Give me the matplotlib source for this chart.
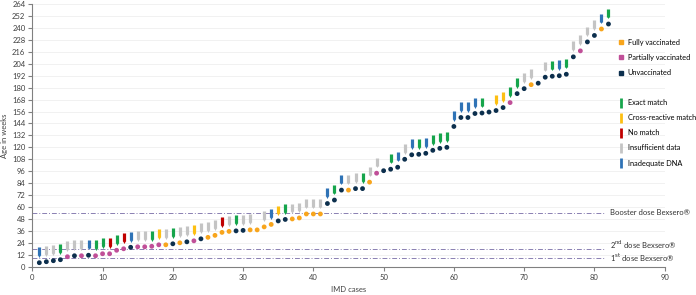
import numpy as np
import matplotlib
matplotlib.use("Agg")
import matplotlib.pyplot as plt
from matplotlib.lines import Line2D

plt.rcParams['font.family'] = ['Lato', 'DejaVu Sans']

# IMD cases ordered by age (weeks)
cases = np.arange(1, 83)
age_weeks = [4, 5, 6, 7, 10, 11, 11, 11.5, 11, 13,
             13, 16.5, 18, 19.5, 20, 20, 20.5, 22, 22, 23,
             24, 25, 26, 28, 29.5, 31.5, 34.5, 35.5, 36, 36.5,
             37, 37, 40, 42.5, 46, 47.5, 48, 49, 53, 53,
             53, 63.5, 67, 77, 77, 78.5, 78.5, 85, 94, 96.5,
             98, 100, 108, 112.5, 113, 114, 117, 119, 120, 141,
             150, 150, 154, 154.5, 155.5, 157, 160, 165, 174, 179,
             183, 184.5, 190.5, 191.5, 192, 193.5, 211, 217, 226, 232.5,
             239, 244]
# F = fully, P = partially, U = unvaccinated
status = ['U', 'U', 'U', 'U', 'P', 'U', 'P', 'U', 'P', 'P',
          'P', 'P', 'P', 'U', 'P', 'P', 'P', 'P', 'F', 'U',
          'F', 'U', 'P', 'U', 'F', 'F', 'F', 'F', 'U', 'U',
          'F', 'F', 'F', 'F', 'U', 'U', 'F', 'F', 'F', 'F',
          'F', 'U', 'U', 'U', 'F', 'U', 'U', 'F', 'P', 'U',
          'U', 'U', 'U', 'U', 'U', 'U', 'U', 'U', 'U', 'U',
          'U', 'U', 'U', 'U', 'U', 'U', 'U', 'P', 'U', 'U',
          'F', 'U', 'U', 'U', 'U', 'U', 'U', 'P', 'U', 'U',
          'F', 'U']
# E = exact, C = cross-reactive, N = no match, I = insufficient data, D = inadequate DNA
match = ['D', 'I', 'I', 'E', 'I', 'I', 'I', 'D', 'E', 'E',
         'N', 'E', 'N', 'D', 'I', 'I', 'E', 'C', 'I', 'E',
         'I', 'I', 'C', 'I', 'I', 'I', 'N', 'I', 'E', 'I',
         'I', '', 'I', 'D', 'C', 'E', 'I', 'I', 'I', 'I',
         'I', 'D', 'E', 'D', 'I', 'I', 'E', 'I', 'I', '',
         'E', 'D', 'I', 'D', 'E', 'D', 'E', 'E', 'E', 'D',
         'D', 'D', 'D', 'E', '', 'C', 'C', 'E', 'E', 'I',
         'I', '', 'I', 'E', 'D', 'E', 'I', 'I', 'I', 'I',
         'D', 'E']

dose_weeks = [9, 18, 54]
dose_labels = ['1$^{\\mathrm{st}}$ dose Bexsero®', '2$^{\\mathrm{nd}}$ dose Bexsero®',
               'Booster dose Bexsero®']
dose_label_y = [9, 22, 54]

status_names = {'F': 'Fully vaccinated', 'P': 'Partially vaccinated', 'U': 'Unvaccinated'}
status_colors = {'F': '#f8a51c', 'P': '#c04f98', 'U': '#0c2f4d'}
match_names = {'E': 'Exact match', 'C': 'Cross-reactive match', 'N': 'No match',
               'I': 'Insufficient data', 'D': 'Inadequate DNA'}
match_colors = {'E': '#16a54c', 'C': '#fdbf12', 'N': '#c00000', 'I': '#c4c4c4', 'D': '#2f73b6'}

fs = 5.5

fig = plt.figure(figsize=(6.96, 2.95), dpi=100)
ax = fig.add_axes([0.0464, 0.096, 0.9086, 0.89])

# dose reference lines
ax.hlines(dose_weeks, 0, 81.5, colors='#8a80b2', linestyles=(0, (5, 2, 1, 2)), lw=0.7, zorder=1)
for y, lab in zip(dose_label_y, dose_labels):
    ax.text(82.2, y, lab, fontsize=fs, va='center', ha='left', color='#333333', clip_on=False)

# match bars above each point
for c, w, m in zip(cases, age_weeks, match):
    if not m:
        continue
    ax.vlines(c, w + 7.5, w + 15.5, colors=match_colors[m], lw=2.3, zorder=3)
    ax.plot(c, w + 6.8, marker='v', ms=2.2, color=match_colors[m], mec='none', zorder=3)

# points
cols = [status_colors[s] for s in status]
ax.scatter(cases, age_weeks, s=12, c=cols, edgecolors='none', zorder=4)

ax.set_xlim(0, 90)
ax.set_ylim(0, 264)
ax.set_xticks(np.arange(0, 91, 10))
ax.set_yticks(np.arange(0, 265, 12))
ax.yaxis.grid(True, color='#efefef', lw=0.6)
ax.set_axisbelow(True)
for s in ['top', 'right']:
    ax.spines[s].set_visible(False)
for s in ['left', 'bottom']:
    ax.spines[s].set_color('#808080')
    ax.spines[s].set_linewidth(0.8)
ax.tick_params(labelsize=fs, colors='#808080', labelcolor='#404040', length=3, width=0.8, pad=2)
ax.set_xlabel('IMD cases', fontsize=fs, color='#404040', labelpad=4)
ax.set_ylabel('Age in weeks', fontsize=fs, color='#404040', labelpad=3)

h1 = [Line2D([], [], ls='none', marker='s', ms=3.5, color=status_colors[k], label=status_names[k])
      for k in ['F', 'P', 'U']]
h2 = [Line2D([], [], ls='none', marker='|', ms=7.5, mew=2.0, color=match_colors[k], label=match_names[k])
      for k in ['E', 'C', 'N', 'I', 'D']]
leg_kw = dict(loc='upper left', bbox_transform=fig.transFigure, frameon=False, fontsize=5.3,
              handlelength=0.8, handletextpad=0.55, labelspacing=1.1, borderpad=0, borderaxespad=0)
leg1 = ax.legend(handles=h1, bbox_to_anchor=(0.8875, 0.868), **leg_kw)
ax.add_artist(leg1)
ax.legend(handles=h2, bbox_to_anchor=(0.8875, 0.664), **leg_kw)

fig.savefig('out.png', dpi=100)
